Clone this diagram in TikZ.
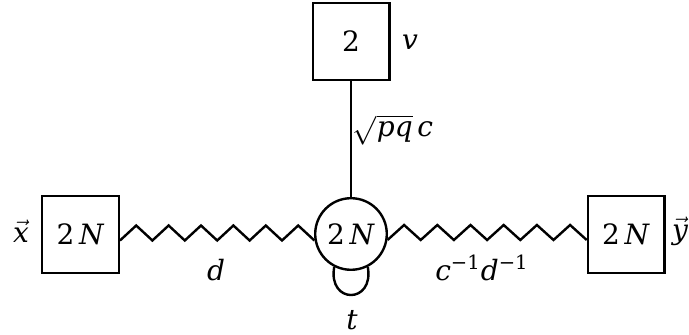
\documentclass[tikz,border=0pt]{standalone}
\usepackage{fontspec}
\setmainfont{DejaVu Serif}
\usepackage{amsmath}
\usetikzlibrary{calc}
\tikzstyle{flavor}=[rectangle, draw=black, line width=1.2pt, minimum size=38.3pt, inner sep=0pt]
\tikzstyle{gauge}=[circle, draw=black, line width=1.2pt, minimum size=35.8pt, inner sep=0pt]
\tikzstyle{lab}=[inner sep=1pt]

\begin{document}
\begin{tikzpicture}[x=0.5pt, y=-0.5pt, font=\fontsize{14}{17}\selectfont, line width=1.2pt]
				\useasboundingbox (0,0) rectangle (689,335);

				% Quiver nodes
				\node[flavor] (lbox) at ( 80.5,234.5) {2\,\textit{N}};
				\node[gauge]  (circ) at (351,234) {2\,\textit{N}};
				\node[flavor] (rbox) at (626,234.5) {2\,\textit{N}};
				\node[flavor] (tbox) at (351, 41.5) {2};

				% Edges
				\draw (tbox) -- (circ);
				\draw (lbox.east) ++(0,6) \foreach \k in {1,...,6}{ -- ++(16.2,-15) -- ++(16.2,15) };
				\draw (circ.center) ++(36.5,6) \foreach \k in {1,...,6}{ -- ++(16.6,-15) -- ++(16.6,15) };
				\draw (circ.-117) to[out=-100, in=-80, looseness=2.9] (circ.-63);

				% Labels
				\node[lab] (xv) at ( 21,231) {$\vec{\textit{x}}$};
				\node[lab] (yv) at (680,231) {$\vec{\textit{y}}$};
				\node[lab] (vv) at (410, 42) {\textit{v}};
				\node[lab] (sq) at (393,130) {$\sqrt{\textit{pq}}\,\textit{c}$};
				\node[lab] (dd) at (216,270) {\textit{d}};
				\node[lab] (cd) at (482,268) {\textit{c}\textsuperscript{−1}\textit{d}\textsuperscript{−1}};
				\node[lab] (tt) at (352,320) {\textit{t}};
			\end{tikzpicture}
\end{document}
